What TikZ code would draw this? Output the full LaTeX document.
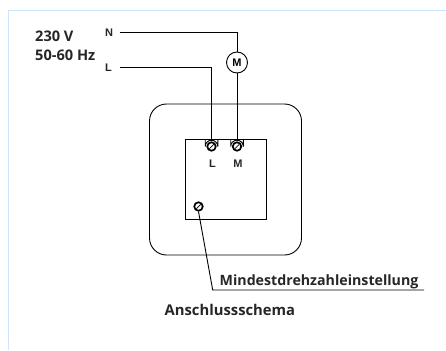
\documentclass[tikz,border=0pt]{standalone}
\usepackage{fontspec}
\setmainfont{Open Sans}
\setsansfont{Liberation Sans}
\tikzset{
    wire/.style={line width=0.9pt},
    screw/.style={circle,draw,line width=1.7pt,fill=white,minimum size=8.5pt,inner sep=0pt},
    boldlabel/.style={font=\bfseries\fontsize{14.2}{16}\selectfont,text=black!85,inner sep=0pt},
    termlabel/.style={font=\sffamily\bfseries\fontsize{11}{12}\selectfont,text=black!85,inner sep=0pt}
}
\begin{document}
\begin{tikzpicture}[x=1pt,y=-1pt]
\useasboundingbox (0,0) rectangle (446,350);
\draw[blue!50!cyan!20,line width=1pt] (446,10.5) -- (8.5,10.5) -- (8.5,350);

\node[boldlabel,anchor=base west,font=\bfseries\fontsize{14.6}{16}\selectfont] (V)  at (35,42) {230 V};
\node[boldlabel,anchor=base west,font=\bfseries\fontsize{14.6}{16}\selectfont] (Hz) at (35,61) {50-60 Hz};
\node[termlabel] (N) at (109,32.5) {N};
\node[termlabel] (L) at (108.5,67.5) {L};
\coordinate (Nstart) at (119.5,32.7);
\coordinate (Lstart) at (119.5,67);

\node[circle,draw,wire,minimum size=21pt,inner sep=0pt,font=\sffamily\bfseries\fontsize{11}{12}\selectfont] (M) at (237,62.5) {M};

\draw[wire,rounded corners=17pt] (149.5,104) rectangle (301.5,255);
\node[draw,wire,minimum width=80.7pt,minimum height=80pt,inner sep=0pt] (box) at (225.6,179.3) {};

\node[screw] (S1) at (211.5,146.5) {};
\node[screw] (S2) at (237,146.5) {};
\node[screw] (S3) at (198.5,206.5) {};
\foreach \s in {S1,S2}
    \draw[wire] ([xshift=-6.3pt]\s.center) ++(0,-7) -- ++(0,7) arc[start angle=180,end angle=360,x radius=6.3pt,y radius=-6.3pt] -- ++(0,-7);
\foreach \s in {S1,S2,S3}
    \draw[line width=0.7pt] ([shift={(-2.2,2.2)}]\s.center) -- ([shift={(2.2,-2.2)}]\s.center);

\node[termlabel] (Lt) at (212.5,163.5) {L};
\node[termlabel] (Mt) at (238,163.5) {M};

\draw[wire] (Nstart) -| (M.north);
\draw[wire] (M.south) -- (S2.north);
\draw[wire] (Lstart) -| (S1.north);

\node[boldlabel,anchor=base west] (min) at (219.5,285) {Mindestdrehzahleinstellung};
\coordinate (bend) at (212.7,290);
\coordinate (lineend) at (424,290);
\draw[wire] (S3.south) -- (bend) -- (lineend);

\node[boldlabel,anchor=base west,font=\bfseries\fontsize{14.8}{16}\selectfont] (title) at (164.5,315) {Anschlussschema};
\end{tikzpicture}
\end{document}
